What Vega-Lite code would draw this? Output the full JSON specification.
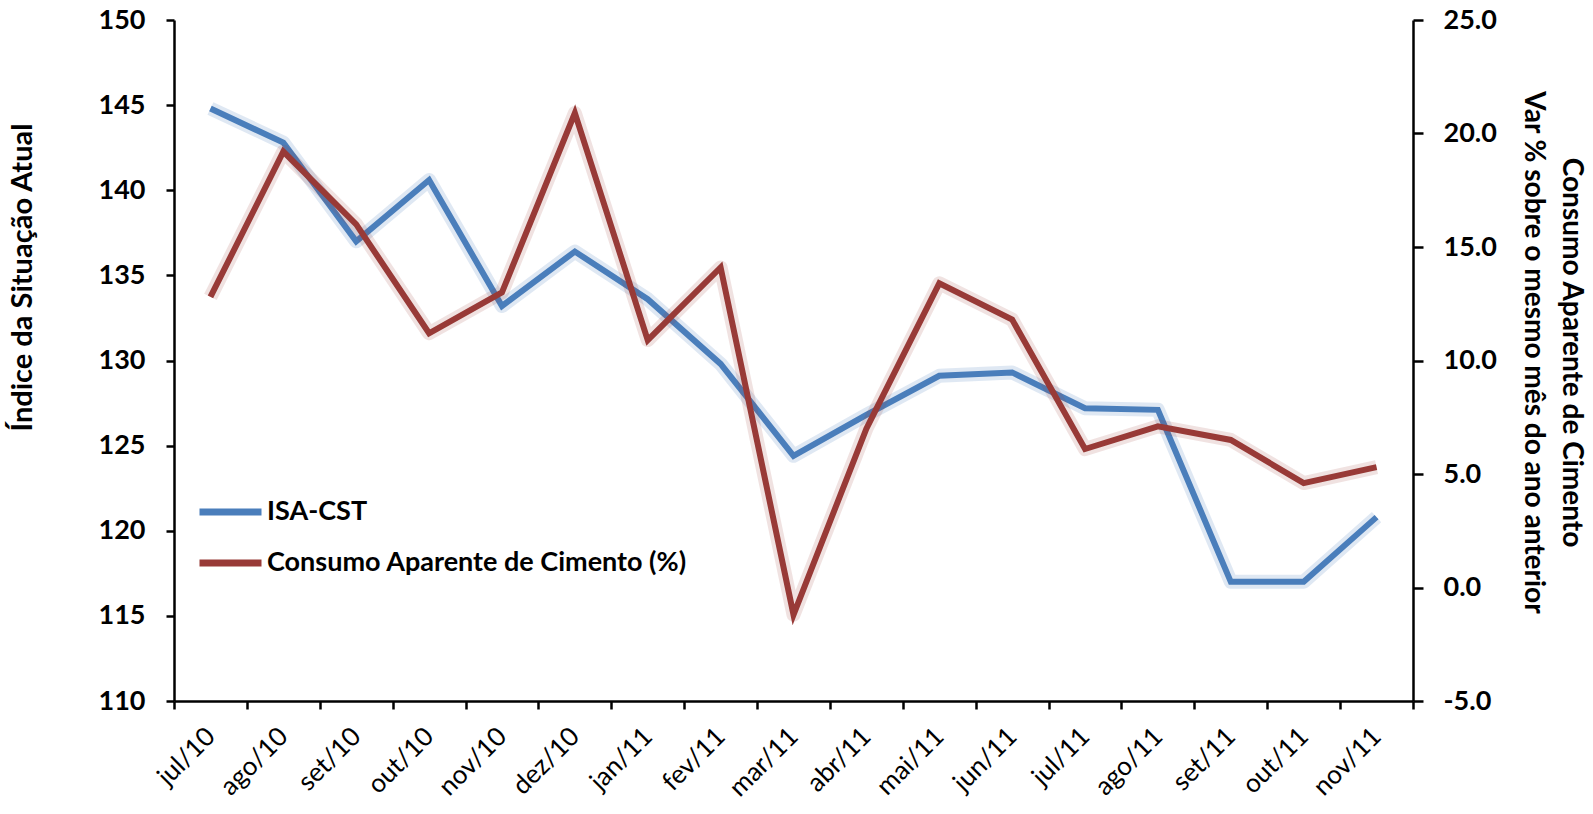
{
  "$schema": "https://vega.github.io/schema/vega-lite/v6.json",
  "width": 1239,
  "height": 681,
  "autosize": {"type": "none"},
  "padding": {"left": 174, "top": 20, "right": 180, "bottom": 113},
  "background": "white",
  "config": {
    "view": {"stroke": null},
    "font": "Lato",
    "axis": {"grid": false, "domainColor": "black", "domainWidth": 2.5, "tickColor": "black", "tickWidth": 2.5, "labelColor": "black", "titleColor": "black", "labelFont": "Lato", "titleFont": "Lato"}
  },
  "data": {
    "values": [
      {"mes": "jul/10", "isa": 144.8, "consumo": 12.8},
      {"mes": "ago/10", "isa": 142.8, "consumo": 19.2},
      {"mes": "set/10", "isa": 137.0, "consumo": 16.0},
      {"mes": "out/10", "isa": 140.6, "consumo": 11.2},
      {"mes": "nov/10", "isa": 133.2, "consumo": 13.0},
      {"mes": "dez/10", "isa": 136.4, "consumo": 20.9},
      {"mes": "jan/11", "isa": 133.6, "consumo": 10.9},
      {"mes": "fev/11", "isa": 129.8, "consumo": 14.1},
      {"mes": "mar/11", "isa": 124.4, "consumo": -1.2},
      {"mes": "abr/11", "isa": 126.8, "consumo": 7.0},
      {"mes": "mai/11", "isa": 129.1, "consumo": 13.4},
      {"mes": "jun/11", "isa": 129.3, "consumo": 11.8},
      {"mes": "jul/11", "isa": 127.2, "consumo": 6.1},
      {"mes": "ago/11", "isa": 127.1, "consumo": 7.1},
      {"mes": "set/11", "isa": 117.0, "consumo": 6.5},
      {"mes": "out/11", "isa": 117.0, "consumo": 4.6},
      {"mes": "nov/11", "isa": 120.8, "consumo": 5.3}
    ]
  },
  "encoding": {
    "x": {
      "field": "mes",
      "type": "ordinal",
      "sort": null,
      "bandPosition": 0.5,
      "scale": {"type": "band", "paddingInner": 0, "paddingOuter": 0},
      "axis": {
        "title": null,
        "tickBand": "extent",
        "tickSize": 8,
        "labelAngle": -45,
        "labelAlign": "right",
        "labelBaseline": "middle",
        "labelPadding": 23,
        "labelFontSize": 26,
        "labelFontWeight": "normal"
      }
    }
  },
  "layer": [
    {
      "encoding": {
        "y": {
          "field": "isa",
          "type": "quantitative",
          "scale": {"domain": [110, 150], "nice": false, "zero": false},
          "axis": {
            "orient": "left",
            "values": [110, 115, 120, 125, 130, 135, 140, 145, 150],
            "tickSize": 8,
            "labelPadding": 21,
            "labelFontSize": 27,
            "labelFontWeight": "bold",
            "title": "Índice da Situação  Atual",
            "titleFontSize": 29,
            "titleFontWeight": "bold",
            "titleAngle": -90,
            "titleX": -152,
            "titleY": 257,
            "titleAlign": "center",
            "titleBaseline": "middle"
          }
        }
      },
      "layer": [
        {"mark": {"type": "line", "color": "#4F81BD", "strokeWidth": 14, "opacity": 0.18, "strokeJoin": "round"}},
        {
          "mark": {"type": "line", "strokeWidth": 6, "strokeJoin": "miter"},
          "encoding": {
            "color": {
              "datum": "ISA-CST",
              "type": "nominal",
              "scale": {"domain": ["ISA-CST", "Consumo Aparente de Cimento (%)"], "range": ["#4A7EBB", "#983A37"]},
              "legend": {
                "title": null,
                "orient": "none",
                "legendX": 22,
                "legendY": 479,
                "padding": 0,
                "symbolType": "stroke",
                "symbolSize": 3844,
                "symbolStrokeWidth": 7,
                "clipHeight": 26,
                "rowPadding": 24,
                "labelOffset": 2,
                "labelLimit": 0,
                "labelFontSize": 27,
                "labelFontWeight": "bold",
                "labelColor": "black",
                "labelFont": "Lato"
              }
            }
          }
        }
      ]
    },
    {
      "encoding": {
        "y": {
          "field": "consumo",
          "type": "quantitative",
          "scale": {"domain": [-5, 25], "nice": false, "zero": false},
          "axis": {
            "orient": "right",
            "values": [-5, 0, 5, 10, 15, 20, 25],
            "format": ".1f",
            "labelExpr": "replace(datum.label, '−', '-')",
            "tickSize": 10,
            "labelPadding": 20,
            "labelFontSize": 27,
            "labelFontWeight": "bold",
            "title": ["Consumo Aparente de Cimento", "Var % sobre o mesmo mês do ano anterior"],
            "titleFontSize": 28,
            "titleFontWeight": "bold",
            "titleAngle": 90,
            "titleX": 157,
            "titleY": 332,
            "titleAlign": "center",
            "titleBaseline": "middle",
            "titleLineHeight": 38
          }
        }
      },
      "layer": [
        {"mark": {"type": "line", "color": "#983A37", "strokeWidth": 14, "opacity": 0.15, "strokeJoin": "round"}},
        {
          "mark": {"type": "line", "strokeWidth": 6, "strokeJoin": "miter"},
          "encoding": {
            "color": {"datum": "Consumo Aparente de Cimento (%)", "type": "nominal"}
          }
        }
      ]
    }
  ],
  "resolve": {"scale": {"y": "independent"}}
}
